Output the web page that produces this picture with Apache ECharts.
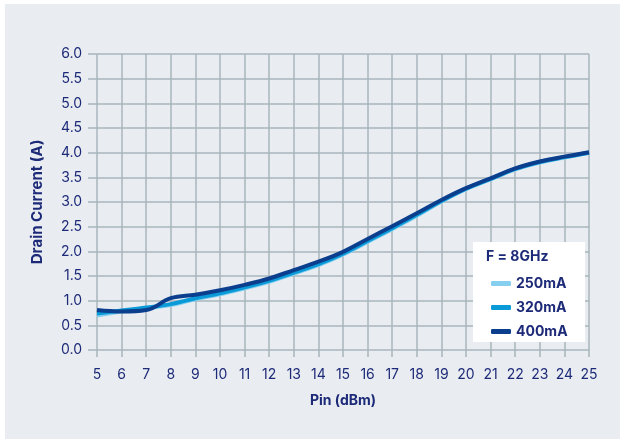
<!DOCTYPE html>
<html><head><meta charset="utf-8">
<script src="https://cdn.jsdelivr.net/npm/echarts@6/dist/echarts.min.js"></script>
<style>
html,body{margin:0;padding:0;background:#ffffff;}
#c{position:absolute;left:0;top:0;width:620px;height:439px;}
</style></head>
<body><div id="c"></div>
<script>
const pinDbm = [5,6,7,8,9,10,11,12,13,14,15,16,17,18,19,20,21,22,23,24,25];
const current250 = [0.70,0.78,0.85,0.91,1.03,1.13,1.25,1.38,1.55,1.72,1.93,2.19,2.45,2.72,3.01,3.26,3.46,3.66,3.80,3.90,4.00];
const current320 = [0.74,0.80,0.86,0.93,1.05,1.15,1.27,1.40,1.57,1.74,1.95,2.21,2.47,2.74,3.02,3.27,3.47,3.67,3.81,3.91,4.00];
const current400 = [0.81,0.78,0.81,1.05,1.12,1.21,1.32,1.45,1.62,1.79,1.99,2.25,2.51,2.77,3.04,3.28,3.48,3.68,3.82,3.92,4.01];
const seriesNames = ['250mA','320mA','400mA'];
const legendTitle = 'F = 8GHz';
const xTitle = 'Pin (dBm)';
const yTitle = 'Drain Current (A)';

const navy = '#1d2a78';
const gridCol = '#a8b5bc';
const colors = ['#86cfef','#0a9ad8','#0b3f8e'];
const font = 'Inter, "Open Sans", sans-serif';
function pairs(arr){ return pinDbm.map((x,i)=>[x,arr[i]]); }
const dataSets = [current250, current320, current400];

const chart = echarts.init(document.getElementById('c'), null, {renderer:'canvas'});
chart.setOption({
  animation:false,
  backgroundColor:'transparent',
  graphic:[
    {type:'rect', left:5, top:4, shape:{width:615, height:435}, style:{fill:'#e9edf1'}, z:-10},
    {type:'rect', left:473, top:242, shape:{width:112, height:100}, style:{fill:'#ffffff'}, z:5},
    {type:'text', left:486, top:250, style:{text:legendTitle, fill:navy, font:'bold 14px '+font}, z:6}
  ],
  grid:{left:97, right:31, top:54, bottom:89},
  xAxis:{
    type:'value', min:5, max:25, interval:1,
    name:xTitle, nameLocation:'middle', nameGap:44,
    nameTextStyle:{color:navy, fontWeight:'bold', fontSize:14, fontFamily:font},
    axisLine:{show:false},
    axisTick:{show:true, length:7, lineStyle:{color:gridCol, width:1.5}},
    axisLabel:{color:navy, fontSize:14, fontFamily:font, margin:18},
    splitLine:{show:true, lineStyle:{color:gridCol, width:1.5}}
  },
  yAxis:{
    type:'value', min:0, max:6, interval:0.5,
    name:yTitle, nameLocation:'middle', nameGap:52, nameRotate:90,
    nameTextStyle:{color:navy, fontWeight:'bold', fontSize:15, fontFamily:font},
    axisLine:{show:false},
    axisTick:{show:true, length:9, lineStyle:{color:gridCol, width:1.5}},
    axisLabel:{color:navy, fontSize:14, fontFamily:font, margin:15, formatter:v=>v.toFixed(1)},
    splitLine:{show:true, lineStyle:{color:gridCol, width:1.5}}
  },
  legend:{
    orient:'vertical', left:486, top:271, itemGap:9,
    itemWidth:20, itemHeight:5, icon:'roundRect',
    textStyle:{color:navy, fontWeight:'bold', fontSize:14, fontFamily:font, lineHeight:15},
    data:seriesNames, z:7
  },
  series: seriesNames.map((n,i)=>({
    name:n, type:'line', smooth:0.4, showSymbol:false, symbol:'none',
    data:pairs(dataSets[i]),
    lineStyle:{color:colors[i], width:4},
    itemStyle:{color:colors[i]},
    z:2+i
  }))
});
</script></body></html>
